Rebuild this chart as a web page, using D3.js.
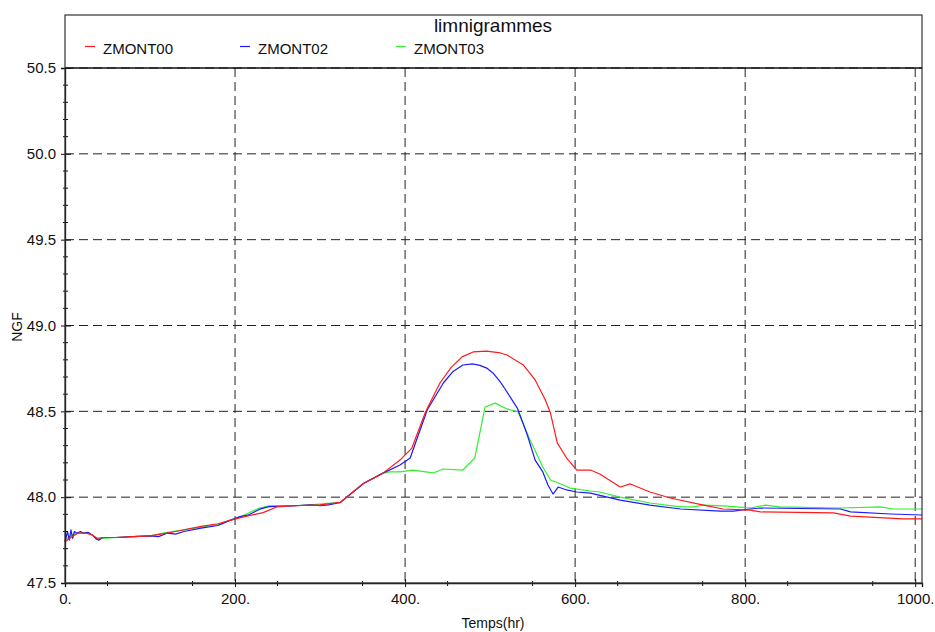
<!DOCTYPE html>
<html>
<head>
<meta charset="utf-8">
<script src="https://cdn.jsdelivr.net/npm/d3@7"></script>
<style>
  body { margin: 0; background: #fff; }
  text { font-family: "Liberation Sans", Arial, sans-serif; fill: #111; }
</style>
</head>
<body>
<div id="chart"></div>
<script>
// data
var seriesNames = ["ZMONT00", "ZMONT02", "ZMONT03"];
var seriesColors = ["#ff1a1a", "#1a1aff", "#33ee33"];

var zmont00T = [0, 8, 15, 25, 32, 38, 45, 60, 80, 100, 120, 140, 160, 180, 194, 210, 233, 249, 270, 300, 324, 351, 374, 394, 408, 424, 441, 454, 467, 480, 496, 512, 520, 539, 553, 565, 571, 579, 590, 602, 618, 629, 653, 665, 688, 712, 751, 774, 806, 818, 904, 924, 986, 1008];
var zmont00V = [47.74, 47.77, 47.79, 47.79, 47.78, 47.76, 47.765, 47.765, 47.77, 47.775, 47.79, 47.81, 47.83, 47.845, 47.865, 47.885, 47.91, 47.943, 47.95, 47.955, 47.97, 48.08, 48.14, 48.216, 48.286, 48.496, 48.665, 48.755, 48.817, 48.846, 48.851, 48.84, 48.828, 48.77, 48.683, 48.566, 48.49, 48.316, 48.228, 48.158, 48.158, 48.135, 48.059, 48.077, 48.03, 47.995, 47.954, 47.931, 47.925, 47.914, 47.908, 47.89, 47.873, 47.873];

var zmont02T = [0, 3, 5, 7, 9, 11, 14, 18, 22, 27, 32, 37, 40, 44, 50, 60, 80, 100, 110, 120, 130, 140, 160, 180, 194, 205, 215, 229, 240, 270, 290, 300, 310, 324, 351, 374, 394, 406, 426, 445, 456, 468, 479, 488, 496, 504, 512, 516, 532, 543, 553, 562, 568, 574, 580, 590, 602, 618, 653, 688, 724, 771, 786, 806, 818, 912, 924, 971, 1008];
var zmont02V = [47.74, 47.80, 47.75, 47.81, 47.76, 47.80, 47.79, 47.80, 47.79, 47.795, 47.78, 47.755, 47.75, 47.765, 47.765, 47.765, 47.77, 47.775, 47.77, 47.79, 47.785, 47.80, 47.82, 47.835, 47.865, 47.885, 47.895, 47.93, 47.945, 47.95, 47.955, 47.95, 47.955, 47.97, 48.08, 48.14, 48.187, 48.228, 48.508, 48.665, 48.73, 48.77, 48.776, 48.768, 48.752, 48.72, 48.671, 48.642, 48.519, 48.374, 48.216, 48.147, 48.071, 48.018, 48.059, 48.042, 48.03, 48.024, 47.983, 47.954, 47.931, 47.919, 47.919, 47.931, 47.937, 47.931, 47.914, 47.902, 47.896];

var zmont03T = [0, 8, 15, 25, 32, 38, 45, 60, 80, 100, 120, 140, 160, 180, 194, 210, 229, 240, 270, 300, 324, 351, 374, 382, 394, 409, 433, 445, 468, 482, 494, 506, 520, 533, 547, 562, 571, 586, 594, 618, 629, 653, 688, 724, 739, 751, 774, 790, 806, 824, 841, 912, 959, 974, 1008];
var zmont03V = [47.75, 47.78, 47.79, 47.795, 47.78, 47.755, 47.76, 47.765, 47.77, 47.775, 47.795, 47.81, 47.825, 47.84, 47.865, 47.895, 47.937, 47.95, 47.95, 47.96, 47.97, 48.08, 48.14, 48.147, 48.147, 48.158, 48.141, 48.164, 48.158, 48.228, 48.525, 48.548, 48.514, 48.496, 48.333, 48.176, 48.1, 48.071, 48.053, 48.036, 48.03, 48.0, 47.966, 47.943, 47.943, 47.954, 47.949, 47.943, 47.937, 47.954, 47.943, 47.937, 47.943, 47.931, 47.931];

var xTicks = [0, 200, 400, 600, 800, 1000];
var yTicks = [47.5, 48.0, 48.5, 49.0, 49.5, 50.0, 50.5];

var svgWidth = 935;
var svgHeight = 632;

var margin = { top: 68, bottom: 49, left: 65, right: 13 };
var legendTop = 15;
var width = svgWidth - margin.left - margin.right;
var height = svgHeight - margin.top - margin.bottom;

var svg = d3.select("#chart")
    .append("svg")
    .attr("width", svgWidth)
    .attr("height", svgHeight);

var chartGroup = svg.append("g")
    .attr("transform", `translate(${margin.left}, ${margin.top})`);

var xScale = d3.scaleLinear().domain([0, 1008]).range([0, width]);
var yScale = d3.scaleLinear().domain([47.5, 50.5]).range([height, 0]);

// dashed grid
chartGroup.selectAll(".vgrid")
    .data(xTicks.filter(d => d > 0))
    .enter()
    .append("line")
    .attr("x1", d => xScale(d)).attr("x2", d => xScale(d))
    .attr("y1", 0).attr("y2", height)
    .attr("stroke", "#222")
    .attr("stroke-dasharray", "9,5");

chartGroup.selectAll(".hgrid")
    .data(yTicks.filter(d => d > 47.5))
    .enter()
    .append("line")
    .attr("x1", 0).attr("x2", width)
    .attr("y1", d => yScale(d)).attr("y2", d => yScale(d))
    .attr("stroke", "#222")
    .attr("stroke-dasharray", "9,5");

// series lines
var line = d3.line()
    .x(d => xScale(d[0]))
    .y(d => yScale(d[1]));

var allSeries = [
    d3.zip(zmont00T, zmont00V),
    d3.zip(zmont02T, zmont02V),
    d3.zip(zmont03T, zmont03V)
];

// green drawn first, then blue, then red like the picture
[2, 1, 0].forEach(function(i) {
    chartGroup.append("path")
        .datum(allSeries[i])
        .attr("fill", "none")
        .attr("stroke", seriesColors[i])
        .attr("stroke-width", 1.2)
        .attr("stroke-linejoin", "round")
        .attr("d", line);
});

// frame: plot + legend box
svg.append("rect")
    .attr("x", margin.left)
    .attr("y", legendTop)
    .attr("width", width)
    .attr("height", margin.top + height - legendTop)
    .attr("fill", "none")
    .attr("stroke", "#333")
    .attr("stroke-width", 1.2);

svg.append("line")
    .attr("x1", margin.left).attr("x2", margin.left + width)
    .attr("y1", margin.top).attr("y2", margin.top)
    .attr("stroke", "#111")
    .attr("stroke-width", 1.5);

// axes
var bottomAxis = d3.axisBottom(xScale)
    .tickValues(xTicks)
    .tickSize(4)
    .tickFormat(d => d + ".");
var leftAxis = d3.axisLeft(yScale)
    .tickValues(yTicks)
    .tickSize(4)
    .tickFormat(d3.format(".1f"));

var xAxis = chartGroup.append("g")
    .attr("transform", `translate(0, ${height})`)
    .call(bottomAxis);
var yAxis = chartGroup.append("g")
    .call(leftAxis);

[xAxis, yAxis].forEach(function(ax) {
    ax.select(".domain").attr("stroke", "#111").attr("stroke-width", 1.3);
    ax.selectAll(".tick line").attr("stroke", "#111");
    ax.selectAll("text")
        .style("font-size", "15px")
        .style("font-family", "Liberation Sans, Arial, sans-serif")
        .attr("fill", "#111");
});
xAxis.selectAll(".tick line").attr("y1", -4).attr("y2", 4);
xAxis.selectAll("text").attr("y", 10);
yAxis.selectAll(".tick line").attr("x1", 6).attr("x2", -4);
yAxis.selectAll("text").attr("x", -9);

// minor ticks
var xMinor = d3.range(50, 1001, 100);
chartGroup.selectAll(".xminor")
    .data(xMinor)
    .enter()
    .append("line")
    .attr("x1", d => xScale(d)).attr("x2", d => xScale(d))
    .attr("y1", height - 2).attr("y2", height + 3)
    .attr("stroke", "#111");

var yMinor = d3.range(47.6, 50.5, 0.1).filter(d => Math.abs(d * 2 - Math.round(d * 2)) > 0.01);
chartGroup.selectAll(".yminor")
    .data(yMinor)
    .enter()
    .append("line")
    .attr("x1", -2).attr("x2", 3)
    .attr("y1", d => yScale(d)).attr("y2", d => yScale(d))
    .attr("stroke", "#111");

// axis titles
svg.append("text")
    .attr("x", 493)
    .attr("y", 628)
    .attr("text-anchor", "middle")
    .style("font-size", "14px")
    .text("Temps(hr)");

svg.append("text")
    .attr("transform", `translate(22, 327) rotate(-90)`)
    .attr("text-anchor", "middle")
    .style("font-size", "14px")
    .text("NGF");

// legend
svg.append("text")
    .attr("x", 493)
    .attr("y", 32)
    .attr("text-anchor", "middle")
    .style("font-size", "19px")
    .text("limnigrammes");

var legendX = [85, 240, 396];
var legendGroup = svg.selectAll(".legend")
    .data(seriesNames)
    .enter()
    .append("g")
    .attr("transform", (d, i) => `translate(${legendX[i]}, 46.5)`);

legendGroup.append("line")
    .attr("x1", 0).attr("x2", 10)
    .attr("y1", 0).attr("y2", 0)
    .attr("stroke", (d, i) => seriesColors[i])
    .attr("stroke-width", 1.2);

legendGroup.append("text")
    .attr("x", 18)
    .attr("y", 7)
    .style("font-size", "15px")
    .text(d => d);
</script>
</body>
</html>
